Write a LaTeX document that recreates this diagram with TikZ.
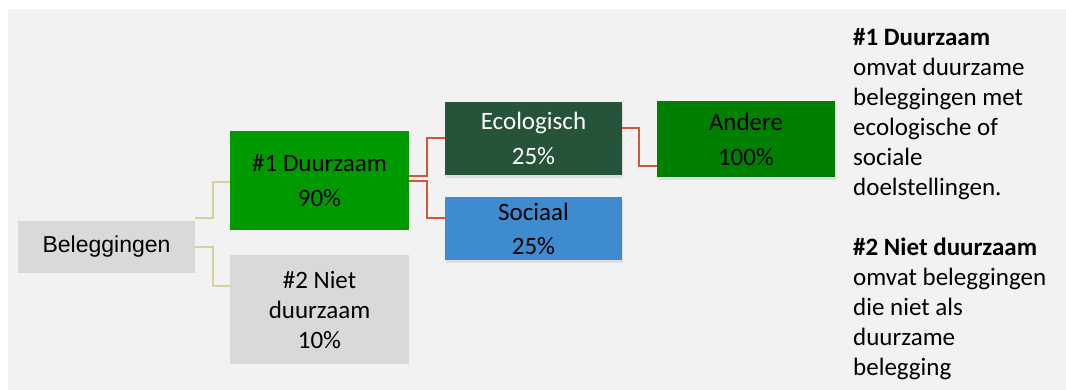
\documentclass[tikz,border=0pt]{standalone}
\usepackage{fontspec}
\setmainfont{Carlito}
\newfontfamily\helvfont{Liberation Sans}
\usetikzlibrary{positioning,calc,shadows}
\definecolor{bggray}{HTML}{F2F2F2}
\definecolor{boxgray}{HTML}{D9D9D9}
\definecolor{duurgreen}{HTML}{009900}
\definecolor{andgreen}{HTML}{008000}
\definecolor{ecogreen}{HTML}{265438}
\definecolor{socblue}{HTML}{3F8BD0}
\definecolor{linkolive}{HTML}{D6CF9E}
\definecolor{linkred}{HTML}{D0583A}
\tikzstyle{box} = [rectangle, inner sep=0pt, align=center, text centered, font=\fontsize{25}{35}\selectfont]
\tikzstyle{graybox} = [box, fill=boxgray, text=black]
\tikzstyle{shadowbox} = [box, drop shadow={shadow xshift=1pt, shadow yshift=-3pt, opacity=0.18}]
\tikzstyle{olivelink} = [line width=2pt, draw=linkolive]
\tikzstyle{redlink} = [line width=2pt, draw=linkred]

\begin{document}
\begin{tikzpicture}[x=1pt,y=1pt]
\useasboundingbox (0,0) rectangle (1066,390);
\fill[bggray] (8,-1) rectangle (1067,381);

\node (bel) [graybox, minimum width=177, minimum height=52, font=\helvfont\fontsize{23}{28}\selectfont] at (106.5,143) {Beleggingen};
\node (duur) [box, fill=duurgreen, minimum width=179, minimum height=99] at (319.5,209.5) {\#1 Duurzaam\\90\%};
\node (niet) [graybox, minimum width=179, minimum height=109, font=\fontsize{25}{30}\selectfont] at (319.5,80) {\#2 Niet\\duurzaam\\10\%};
\node (eco) [shadowbox, fill=ecogreen, text=white, minimum width=177, minimum height=73] at (533.5,251.5) {Ecologisch\\25\%};
\node (soc) [shadowbox, fill=socblue, minimum width=177, minimum height=63] at (533.5,161.5) {Sociaal\\[-1pt]25\%};
\node (and) [shadowbox, fill=andgreen, minimum width=178, minimum height=76] at (746,251) {Andere\\100\%};

% uitleg rechts
\node (uitleg) [anchor=base west, align=left, inner sep=0pt, font=\fontsize{25}{30}\selectfont] at (853,14)
  {\textbf{\#1 Duurzaam}\\omvat duurzame\\beleggingen met\\ecologische of\\sociale\\doelstellingen.\\[30pt]
   \textbf{\#2 Niet duurzaam}\\omvat beleggingen\\die niet als\\duurzame\\belegging};

\draw [olivelink] ([yshift=3pt]bel.north east) -- ++(18,0) |- ([yshift=-1.5pt]duur.west);
\draw [olivelink] (bel.east) -- ++(18,0) |- ([yshift=-31pt]niet.north west);
\draw [redlink] ([yshift=4pt]duur.east) -- ++(18,0) |- (eco.west);
\draw [redlink] ([yshift=-1pt]duur.east) -- ++(18,0) |- ([yshift=-21pt]soc.north west);
\draw [redlink] ([yshift=10pt]eco.east) -- ++(17,0) |- ([yshift=-27pt]and.west);
\end{tikzpicture}
\end{document}
